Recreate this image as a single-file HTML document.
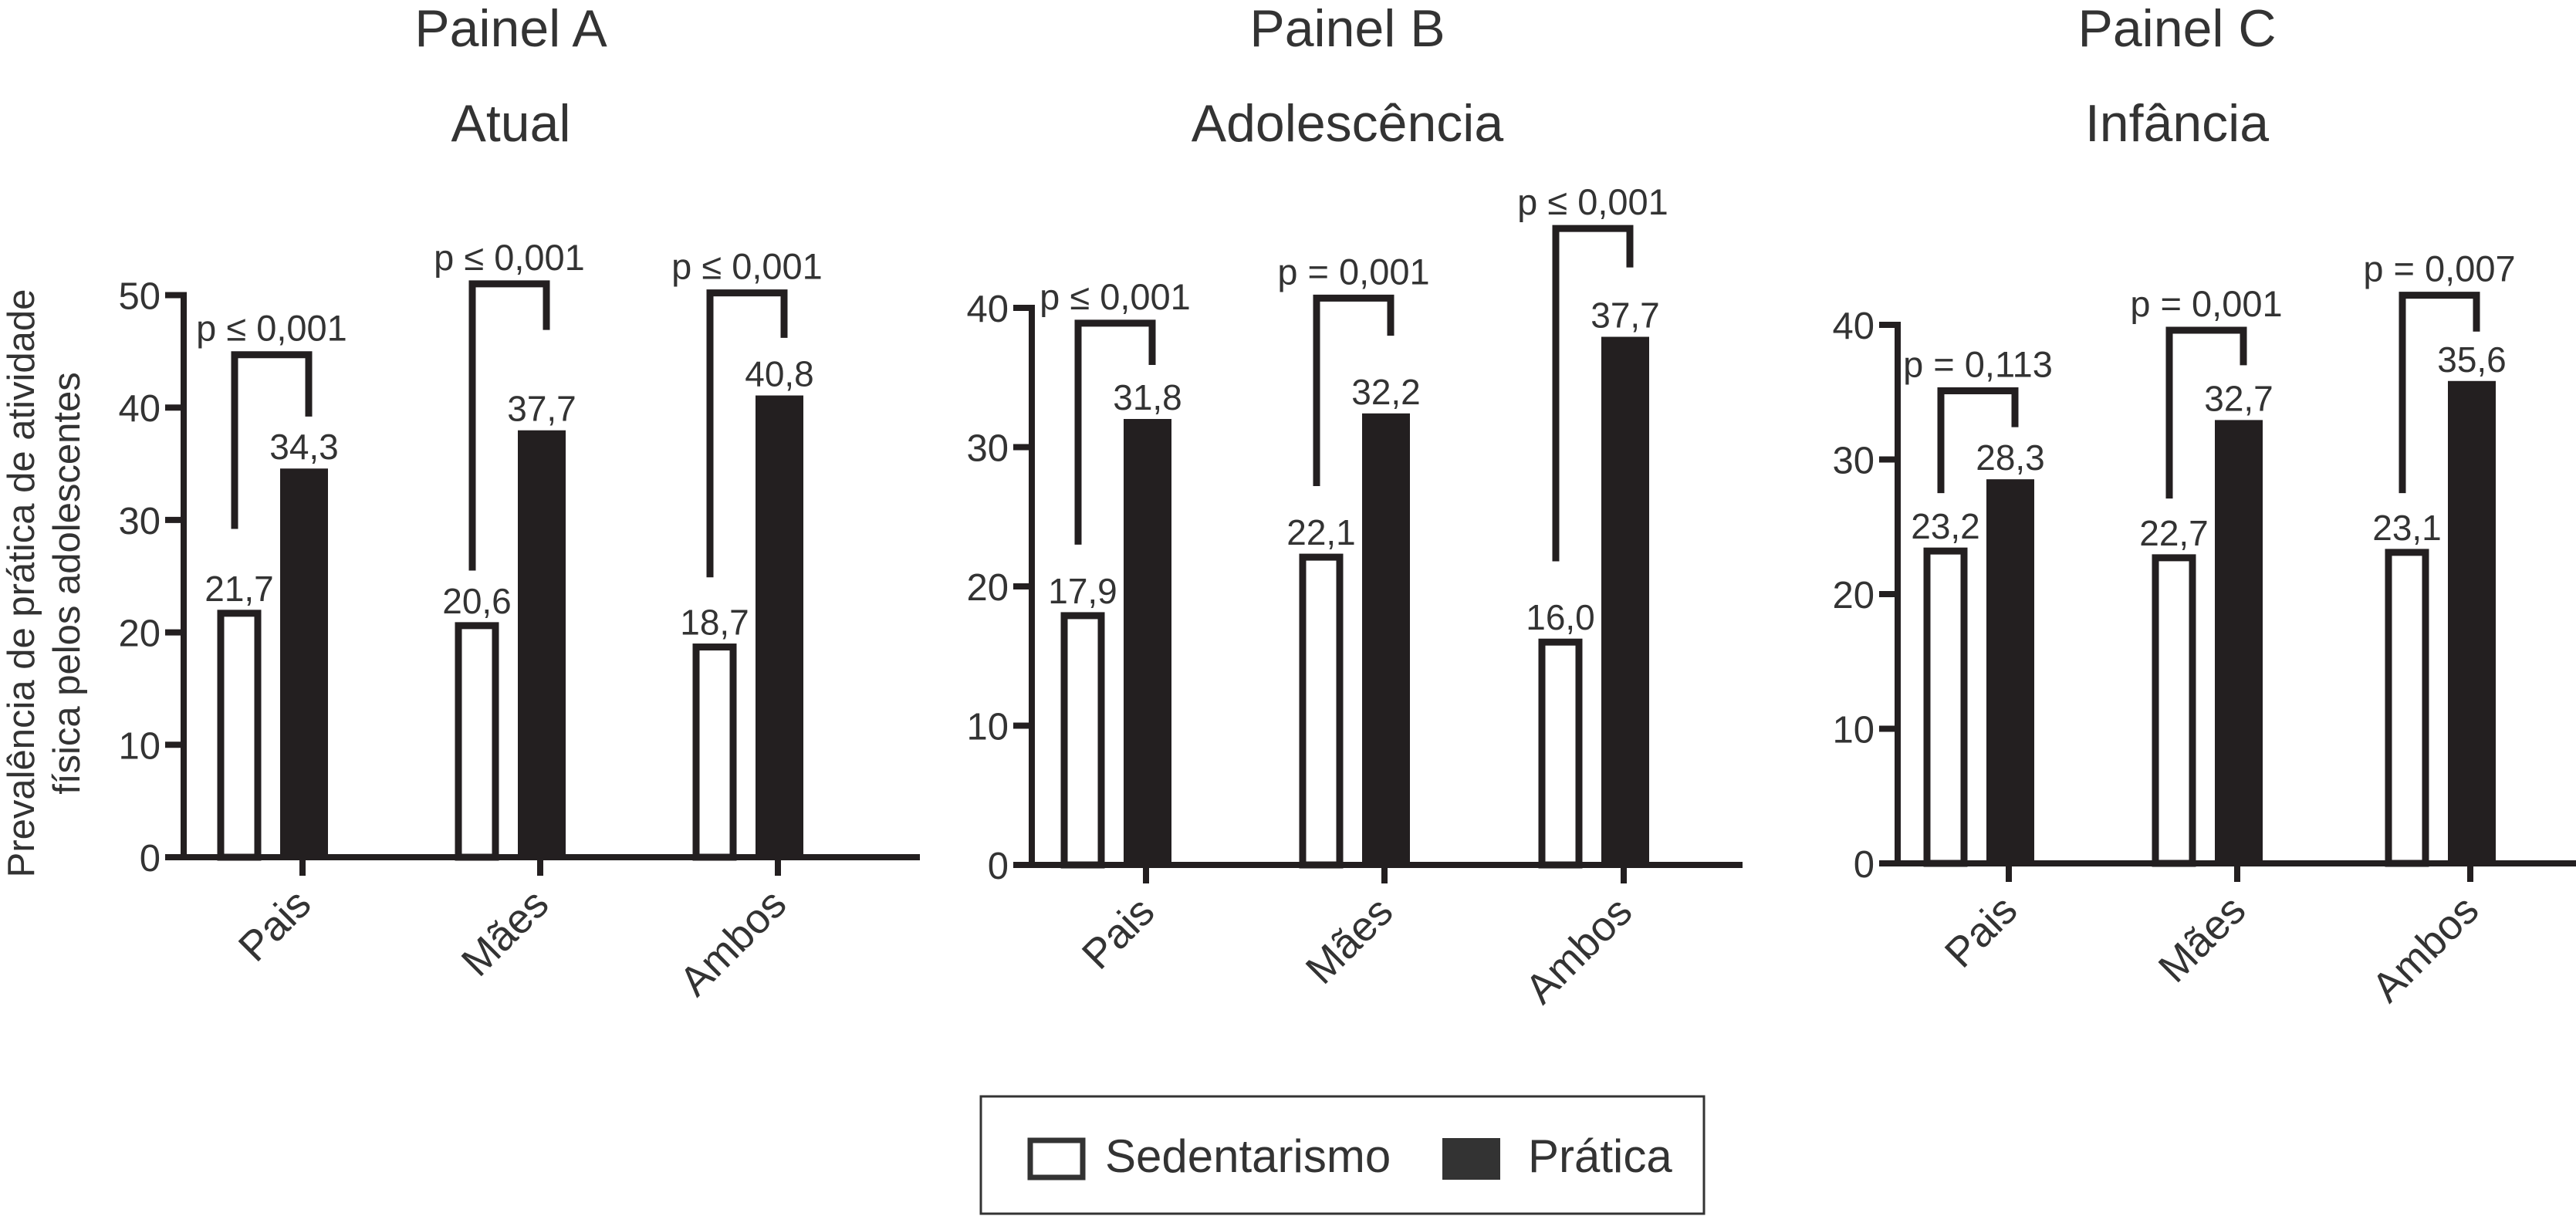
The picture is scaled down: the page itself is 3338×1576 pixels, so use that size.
<!DOCTYPE html>
<html><head><meta charset="utf-8"><style>
html,body{margin:0;padding:0;background:#fff;}
svg{display:block;font-family:"Liberation Sans",Arial,sans-serif;}
</style></head><body>
<svg id="chart" width="3338" height="1576" viewBox="0 0 3338 1576" xmlns="http://www.w3.org/2000/svg">
<g fill="#333" font-size="49" text-anchor="middle">
<text transform="translate(44,756) rotate(-90)">Prevalência de prática de atividade</text>
<text transform="translate(103,756) rotate(-90)">física pelos adolescentes</text>
</g>
<g>
<rect x="1271" y="1421" width="937" height="152" fill="#fff" stroke="#333" stroke-width="3"/>
<rect x="1335" y="1478" width="68" height="48" fill="#fff" stroke="#333" stroke-width="7"/>
<text x="1432" y="1519" font-size="60" fill="#333">Sedentarismo</text>
<rect x="1869" y="1475" width="75" height="54" fill="#333"/>
<text x="1980" y="1519" font-size="60" fill="#333">Prática</text>
</g>
</svg>
<script>
const categories = ["Pais", "Mães", "Ambos"];
const panelTitles = ["Painel A", "Painel B", "Painel C"];
const panelSubtitles = ["Atual", "Adolescência", "Infância"];
const sedA = [21.7, 20.6, 18.7];
const pratA = [34.3, 37.7, 40.8];
const sedB = [17.9, 22.1, 16.0];
const pratB = [31.8, 32.2, 37.7];
const sedC = [23.2, 22.7, 23.1];
const pratC = [28.3, 32.7, 35.6];
const sedLabelsA = ["21,7", "20,6", "18,7"];
const pratLabelsA = ["34,3", "37,7", "40,8"];
const sedLabelsB = ["17,9", "22,1", "16,0"];
const pratLabelsB = ["31,8", "32,2", "37,7"];
const sedLabelsC = ["23,2", "22,7", "23,1"];
const pratLabelsC = ["28,3", "32,7", "35,6"];
const pLabelsA = ["p ≤ 0,001", "p ≤ 0,001", "p ≤ 0,001"];
const pLabelsB = ["p ≤ 0,001", "p = 0,001", "p ≤ 0,001"];
const pLabelsC = ["p = 0,113", "p = 0,001", "p = 0,007"];
const bracketTopA = [44.7, 51.0, 50.2];
const bracketLeftA = [29.2, 25.5, 24.9];
const bracketRightA = [39.2, 46.9, 46.2];
const bracketTopB = [38.9, 40.7, 45.7];
const bracketLeftB = [23.0, 27.2, 21.8];
const bracketRightB = [35.9, 38.0, 42.9];
const bracketTopC = [35.1, 39.6, 42.2];
const bracketLeftC = [27.5, 27.1, 27.5];
const bracketRightC = [32.4, 37.0, 39.5];
const yTicksA = [0, 10, 20, 30, 40, 50];
const yTicksBC = [0, 10, 20, 30, 40];

const NS = "http://www.w3.org/2000/svg";
const svg = document.getElementById("chart");
const INK = "#231f20", TXT = "#333";
function mk(tag, attrs, parent) {
  const e = document.createElementNS(NS, tag);
  for (const k in attrs) e.setAttribute(k, attrs[k]);
  (parent || svg).appendChild(e);
  return e;
}
const panels = [
  {id:"a", axisX:238, zeroY:1111, ppu:14.57, right:1192, ticksX:[392,700,1008], titleX:662, yt:yTicksA, sed:sedA, prat:pratA, sl:sedLabelsA, pl:pratLabelsA, p:pLabelsA, bt:bracketTopA, bl:bracketLeftA, br:bracketRightA},
  {id:"b", axisX:1337, zeroY:1121, ppu:18.05, right:2258, ticksX:[1485,1794,2104], titleX:1746, yt:yTicksBC, sed:sedB, prat:pratB, sl:sedLabelsB, pl:pratLabelsB, p:pLabelsB, bt:bracketTopB, bl:bracketLeftB, br:bracketRightB},
  {id:"c", axisX:2459, zeroY:1119, ppu:17.45, right:3338, ticksX:[2603,2899,3201], titleX:2821, yt:yTicksBC, sed:sedC, prat:pratC, sl:sedLabelsC, pl:pratLabelsC, p:pLabelsC, bt:bracketTopC, bl:bracketLeftC, br:bracketRightC}
];
panels.forEach((P, pi) => {
  const g = mk("g", {});
  
  
  const y = v => P.zeroY - v * P.ppu;
  const t1 = mk("text", {x:P.titleX, y:60, "font-size":68, fill:TXT, "text-anchor":"middle"}, g);
  t1.textContent = panelTitles[pi];
  
  
  const t2 = mk("text", {x:P.titleX, y:183, "font-size":68, fill:TXT, "text-anchor":"middle"}, g);
  t2.textContent = panelSubtitles[pi];
  
  
  const top = y(P.yt[P.yt.length - 1]);
  const ya = mk("line", {x1:P.axisX, y1:top - 4, x2:P.axisX, y2:P.zeroY + 4, stroke:INK, "stroke-width":8}, g);
  
  
  const xa = mk("line", {x1:P.axisX - 24, y1:P.zeroY, x2:P.right, y2:P.zeroY, stroke:INK, "stroke-width":8}, g);
  
  
  P.yt.forEach(v => {
    const tk = mk("line", {x1:P.axisX - 24, y1:y(v), x2:P.axisX, y2:y(v), stroke:INK, "stroke-width":8}, g);
    
    
    const tl = mk("text", {x:P.axisX - 30, y:y(v) + 18, "font-size":49, fill:TXT, "text-anchor":"end"}, g);
    tl.textContent = v;
    
    
  });
  categories.forEach((c, i) => {
    const tx = P.ticksX[i];
    const ct = mk("line", {x1:tx, y1:P.zeroY, x2:tx, y2:P.zeroY + 24, stroke:INK, "stroke-width":8}, g);
    
    
    const cl = mk("text", {transform:`translate(${tx + 14},${P.zeroY + 64}) rotate(-45)`, "font-size":54, fill:TXT, "text-anchor":"end"}, g);
    cl.textContent = c;
    
    
    const wc = tx - 82, bc = tx + 2;
    const wb = mk("rect", {x:wc - 24, y:y(P.sed[i]), width:48, height:P.zeroY - y(P.sed[i]), fill:"#fff", stroke:INK, "stroke-width":9}, g);
    
    
    const bb = mk("rect", {x:bc - 31, y:y(P.prat[i]) - 4, width:62, height:P.zeroY - y(P.prat[i]) + 4, fill:INK}, g);
    
    
    const wl = mk("text", {x:wc, y:y(P.sed[i]) - 16, "font-size":46, fill:TXT, "text-anchor":"middle"}, g);
    wl.textContent = P.sl[i];
    
    
    const bl = mk("text", {x:bc, y:y(P.prat[i]) - 16, "font-size":46, fill:TXT, "text-anchor":"middle"}, g);
    bl.textContent = P.pl[i];
    
    
    const lx = wc - 6, rx = bc + 6;
    const br = mk("polyline", {points:`${lx},${y(P.bl[i])} ${lx},${y(P.bt[i])} ${rx},${y(P.bt[i])} ${rx},${y(P.br[i])}`, fill:"none", stroke:INK, "stroke-width":9}, g);
    
    
    const pt = mk("text", {x:(lx + rx) / 2, y:y(P.bt[i]) - 18, "font-size":47, fill:TXT, "text-anchor":"middle"}, g);
    pt.textContent = P.p[i];
    
    
  });
});
</script>
</body></html>
